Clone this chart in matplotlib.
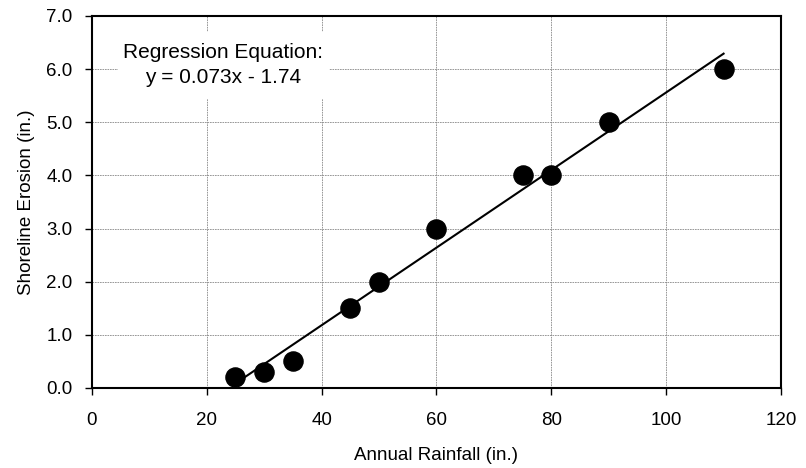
import matplotlib.pyplot as plt
from matplotlib.patches import Rectangle

rainfall = [25, 30, 35, 45, 50, 60, 75, 80, 90, 110]
erosion = [0.2, 0.3, 0.5, 1.5, 2.0, 3.0, 4.0, 4.0, 5.0, 6.0]
slope = 0.073
intercept = -1.74

plt.rcParams["font.family"] = ["Liberation Sans", "DejaVu Sans"]
plt.rcParams["font.size"] = 13.5

fig = plt.figure(figsize=(8.06, 4.68), dpi=100)
ax = fig.add_axes([0.114, 0.171, 0.855, 0.795])

line_x = [min(rainfall), max(rainfall)]
line_y = [slope * x + intercept for x in line_x]
ax.plot(line_x, line_y, color="black", linewidth=1.5, zorder=3)
ax.scatter(rainfall, erosion, s=190, color="black", zorder=4)

ax.set_xlim(0, 120)
ax.set_ylim(0, 7)
ax.set_xticks(range(0, 121, 20))
ax.set_yticks([i for i in range(8)])
ax.set_yticklabels([f"{i:.1f}" for i in range(8)])
ax.tick_params(direction="out", length=5, width=1, colors="black")
ax.tick_params(axis="x", pad=12)
ax.tick_params(axis="y", pad=9)
ax.grid(True, linestyle=(0, (2, 1)), color="#888888", linewidth=0.6)
ax.set_axisbelow(True)
for s in ax.spines.values():
    s.set_linewidth(1.5)

ax.set_xlabel("Annual Rainfall (in.)", labelpad=13)
ax.set_ylabel("Shoreline Erosion (in.)", labelpad=8)

# white box behind the equation, hides the grid
ax.add_patch(Rectangle((0.038, 0.778), 0.306, 0.178, transform=ax.transAxes,
                       facecolor="white", edgecolor="none", zorder=2))
ax.text(0.19, 0.868, "Regression Equation:\ny = 0.073x - 1.74", transform=ax.transAxes,
        ha="center", va="center", fontsize=15, linespacing=1.35, zorder=5)

fig.savefig("out.png", dpi=100)
